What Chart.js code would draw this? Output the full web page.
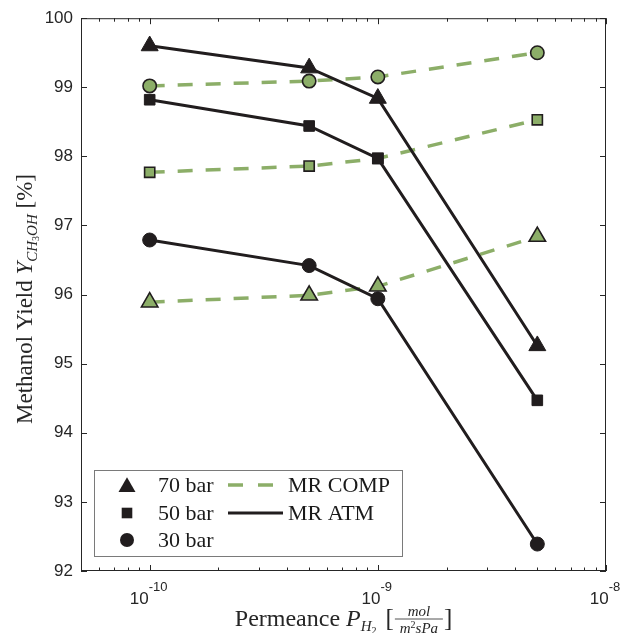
<!DOCTYPE html>
<html>
<head>
<meta charset="utf-8">
<script src="https://cdn.jsdelivr.net/npm/chart.js@4.4.0/dist/chart.umd.min.js"></script>
<style>
  body { margin: 0; background: #fff; }
</style>
</head>
<body>
<canvas id="chart" width="622" height="633"></canvas>
<script>
// permeance values (mol / m2 s Pa)
const permeance = [1e-10, 5e-10, 1e-9, 5e-9];

// MR ATM (solid black)
const atm70 = [99.60, 99.28, 98.84, 95.26];
const atm50 = [98.82, 98.44, 97.97, 94.47];
const atm30 = [96.79, 96.42, 95.94, 92.39];

// MR COMP (dashed green)
const comp70 = [95.89, 95.99, 96.12, 96.84];
const comp50 = [97.77, 97.86, 97.97, 98.53];
const comp30 = [99.02, 99.09, 99.15, 99.50];

const pressureLabels = ['70 bar', '50 bar', '30 bar'];
const modeLabels = ['MR COMP', 'MR ATM'];
const xDecades = [1e-10, 1e-9, 1e-8];
const xExponents = ['-10', '-9', '-8'];

const black = '#211d1e';
const green = '#8cae68';
const axisColor = '#262626';
const serif = '"Liberation Serif", "DejaVu Serif", serif';
const sans = '"Liberation Sans", Arial, sans-serif';

const styles = ['triangle', 'rect', 'circle'];
const radii = [9.8, 7.5, 7];

function pts(vals) {
    return permeance.map((x, i) => ({x: x, y: vals[i]}));
}

function atmSet(vals, i) {
    return {
        label: modeLabels[1] + ' ' + pressureLabels[i],
        data: pts(vals),
        borderColor: black,
        borderWidth: 3,
        pointStyle: styles[i],
        pointRadius: radii[i],
        pointBackgroundColor: black,
        pointBorderColor: black,
        pointBorderWidth: 1,
        tension: 0
    };
}

function compSet(vals, i) {
    return {
        label: modeLabels[0] + ' ' + pressureLabels[i],
        data: pts(vals),
        borderColor: green,
        borderWidth: 3.5,
        borderDash: [15, 13],
        pointStyle: styles[i],
        pointRadius: radii[i] - 0.3,
        pointBackgroundColor: green,
        pointBorderColor: black,
        pointBorderWidth: 1.6,
        tension: 0
    };
}

// draw a run of text pieces, centred on (cx, baseline)
function drawRuns(ctx, runs, cx, base) {
    let w = 0;
    runs.forEach(r => { ctx.font = r.font; r.w = r.gap !== undefined ? r.gap : ctx.measureText(r.t).width; w += r.w; });
    let x = cx - w / 2;
    runs.forEach(r => {
        if (r.t) {
            ctx.font = r.font;
            ctx.fillText(r.t, x, base + (r.dy || 0));
        }
        x += r.w;
    });
    return cx - w / 2;
}

function line(ctx, x1, y1, x2, y2) {
    ctx.beginPath();
    ctx.moveTo(x1, y1);
    ctx.lineTo(x2, y2);
    ctx.stroke();
}

function marker(ctx, style, x, y, r) {
    ctx.beginPath();
    if (style === 'triangle') {
        for (let k = 0; k < 3; k++) {
            const a = k * 2 * Math.PI / 3;
            const px = x + Math.sin(a) * r, py = y - Math.cos(a) * r;
            if (k === 0) ctx.moveTo(px, py); else ctx.lineTo(px, py);
        }
        ctx.closePath();
    } else if (style === 'rect') {
        const s = r * Math.SQRT1_2;
        ctx.rect(x - s, y - s, 2 * s, 2 * s);
    } else {
        ctx.arc(x, y, r, 0, 2 * Math.PI);
    }
    ctx.fill();
}

const framePlugin = {
    id: 'frame',
    afterDraw(chart) {
        const ctx = chart.ctx;
        const a = chart.chartArea;
        const xs = chart.scales.x, ys = chart.scales.y;
        ctx.save();
        ctx.strokeStyle = axisColor;
        ctx.fillStyle = axisColor;
        ctx.lineWidth = 1;
        ctx.strokeRect(a.left + 0.5, a.top + 0.5, a.right - a.left - 1, a.bottom - a.top - 1);

        // y ticks, inside, left and right
        ys.ticks.forEach(t => {
            const py = Math.round(ys.getPixelForValue(t.value)) + 0.5;
            line(ctx, a.left, py, a.left + 6, py);
            line(ctx, a.right - 6, py, a.right, py);
        });

        // x ticks, major and minor
        for (let e = -11; e <= -8; e++) {
            for (let m = 1; m <= 9; m++) {
                const v = m * Math.pow(10, e);
                if (v < xs.min * 0.999 || v > xs.max * 1.001) continue;
                const len = m === 1 ? 6 : 3.5;
                const px = Math.round(xs.getPixelForValue(v)) + 0.5;
                line(ctx, px, a.bottom, px, a.bottom - len);
                line(ctx, px, a.top, px, a.top + len);
            }
        }

        // x tick labels 10^n
        ctx.textBaseline = 'alphabetic';
        ctx.textAlign = 'left';
        xDecades.forEach((d, i) => {
            const px = xs.getPixelForValue(d);
            drawRuns(ctx, [
                {t: '10', font: '17px ' + sans},
                {t: xExponents[i], font: '13px ' + sans, dy: -13}
            ], px - 1, a.bottom + 33);
        });

        // x title
        ctx.fillStyle = '#262626';
        const xb = 626;
        const cx = (a.left + a.right) / 2;
        const runs = [
            {t: 'Permeance ', font: '24px ' + serif},
            {t: 'P', font: 'italic 24px ' + serif},
            {t: 'H', font: 'italic 15px ' + serif, dy: 5},
            {t: '2', font: '10px ' + serif, dy: 8},
            {gap: 9, font: '10px ' + serif},
            {t: '[', font: '25px ' + serif},
            {gap: 50, font: '10px ' + serif},
            {t: ']', font: '25px ' + serif}
        ];
        const x0 = drawRuns(ctx, runs, cx, xb);
        let fx = x0;
        for (let k = 0; k < 6; k++) fx += runs[k].w;
        const fw = runs[6].w;
        const bar = xb - 7;
        ctx.lineWidth = 0.8;
        line(ctx, fx + 1, bar, fx + fw - 1, bar);
        drawRuns(ctx, [{t: 'mol', font: 'italic 15px ' + serif}], fx + fw / 2, bar - 3);
        drawRuns(ctx, [
            {t: 'm', font: 'italic 15px ' + serif},
            {t: '2', font: '10px ' + serif, dy: -5},
            {t: 'sPa', font: 'italic 15px ' + serif}
        ], fx + fw / 2, bar + 14);

        // y title, rotated
        ctx.save();
        ctx.translate(32, 299);
        ctx.rotate(-Math.PI / 2);
        drawRuns(ctx, [
            {t: 'Methanol Yield ', font: '23px ' + serif},
            {t: 'Y', font: 'italic 23px ' + serif},
            {t: 'CH', font: 'italic 15px ' + serif, dy: 5},
            {t: '3', font: '10px ' + serif, dy: 7},
            {t: 'OH', font: 'italic 15px ' + serif, dy: 5},
            {t: ' [%]', font: '23px ' + serif}
        ], 0, 0);
        ctx.restore();

        // legend
        const L = {x: 94.5, y: 470.5, w: 308, h: 86};
        ctx.fillStyle = '#fff';
        ctx.fillRect(L.x, L.y, L.w, L.h);
        ctx.strokeStyle = '#7a7a7a';
        ctx.lineWidth = 1;
        ctx.strokeRect(L.x, L.y, L.w, L.h);
        const rows = [485, 513, 540];
        ctx.font = '22px ' + serif;
        pressureLabels.forEach((lab, i) => {
            ctx.fillStyle = black;
            marker(ctx, styles[i], 127, rows[i] + (i === 0 ? 2 : 0), radii[i]);
            ctx.fillStyle = '#1a1a1a';
            ctx.fillText(lab, 158, rows[i] + 7);
        });
        ctx.lineWidth = 3.5;
        ctx.strokeStyle = green;
        ctx.setLineDash([15, 15]);
        line(ctx, 228, rows[0], 274, rows[0]);
        ctx.setLineDash([]);
        ctx.lineWidth = 3;
        ctx.strokeStyle = black;
        line(ctx, 228, rows[1], 283, rows[1]);
        ctx.fillStyle = '#1a1a1a';
        modeLabels.forEach((lab, i) => ctx.fillText(lab, 288, rows[i] + 7));
        ctx.restore();
    }
};

new Chart(document.getElementById('chart').getContext('2d'), {
    type: 'line',
    data: {
        datasets: [
            atmSet(atm70, 0), atmSet(atm50, 1), atmSet(atm30, 2),
            compSet(comp70, 0), compSet(comp50, 1), compSet(comp30, 2)
        ]
    },
    plugins: [framePlugin],
    options: {
        responsive: false,
        animation: false,
        events: [],
        layout: {
            padding: {left: 0, right: 16, top: 18, bottom: 0}
        },
        plugins: {
            legend: {display: false},
            tooltip: {enabled: false}
        },
        scales: {
            x: {
                type: 'logarithmic',
                min: 5e-11,
                max: 1e-8,
                ticks: {display: false},
                grid: {display: false, drawTicks: false},
                border: {display: false},
                afterFit: function(scale) { scale.height = 62; }
            },
            y: {
                min: 92,
                max: 100,
                ticks: {
                    stepSize: 1,
                    color: axisColor,
                    padding: 8,
                    font: {family: sans, size: 17}
                },
                grid: {display: false, drawTicks: false},
                border: {display: false},
                afterFit: function(scale) { scale.width = 81; }
            }
        }
    }
});
</script>
</body>
</html>
